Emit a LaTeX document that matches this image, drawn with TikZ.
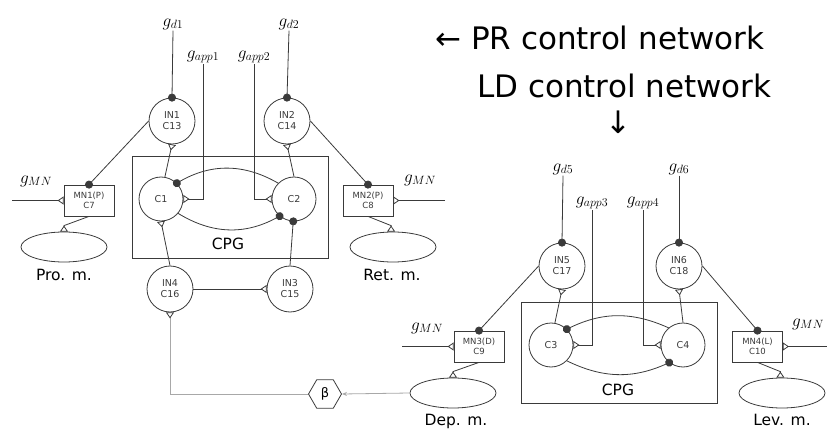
\documentclass[tikz,border=0pt]{standalone}
\usepackage{fontspec}
\setmainfont{DejaVu Sans}
\usetikzlibrary{arrows.meta,shapes.geometric}
\definecolor{lc}{HTML}{3A3A3A}
\definecolor{lg}{HTML}{A8A8A8}
\tikzset{
  neuron/.style={circle,draw=lc,line width=0.8pt,minimum size=46pt,inner sep=0pt,align=center,text=lc,font=\fontsize{9.5}{11}\selectfont},
  cell/.style={neuron,minimum size=44pt},
  mnbox/.style={rectangle,draw=lc,line width=0.8pt,minimum width=50pt,minimum height=31pt,inner sep=0pt,align=center,text=lc,font=\fontsize{8.5}{10}\selectfont},
  muscle/.style={ellipse,draw=lc,line width=0.8pt,minimum width=86pt,minimum height=30pt,inner sep=0pt},
  cpgbox/.style={draw=lc,line width=0.8pt},
  lbl/.style={font=\fontsize{15.5}{18}\selectfont,text=black,inner sep=0pt},
  glab/.style={font=\fontsize{18}{20}\selectfont,inner sep=1pt},
  conn/.style={draw=lc,line width=0.8pt},
  exc/.style={conn,-{Triangle[open,reversed,length=6pt,width=8pt]}},
  inh/.style={conn,-{Circle[length=8pt]},shorten >=-4pt},
  title/.style={font=\fontsize{31}{36}\selectfont,inner sep=0pt,text=black}
}
\begin{document}
\begin{tikzpicture}[x=1pt,y=-1pt]
\useasboundingbox (0,0) rectangle (827,430);
% titles
\node[title,anchor=base west] (t1) at (435,50) {← PR control network};
\node[title,anchor=base west] (t2) at (477,98) {LD control network};
\node[title] (t3) at (618,122) {↓};

% ---------- left network ----------
\draw[cpgbox] (132,156) rectangle (328,258);
\node[lbl,anchor=base] (cpgl1) at (228,250) {CPG};
\node[neuron] (in1) at (172,121) {IN1\\C13};
\node[neuron] (in2) at (287,121) {IN2\\C14};
\node[cell] (c1) at (161,199) {C1};
\node[cell] (c2) at (294,199) {C2};
\node[neuron] (in4) at (170,289) {IN4\\C16};
\node[neuron] (in3) at (290,289) {IN3\\C15};
\node[mnbox] (mn1) at (89,200.5) {MN1(P)\\C7};
\node[mnbox] (mn2) at (368,200.5) {MN2(P)\\C8};
\node[muscle] (pro) at (64,247) {};
\node[muscle] (ret) at (393,247) {};
\node[lbl,anchor=base] (prol) at (64,280) {Pro. m.};
\node[lbl,anchor=base] (retl) at (392,280) {Ret. m.};
\node[glab] (gd1) at (173,24) {$g_{d1}$};
\node[glab] (gd2) at (289,24) {$g_{d2}$};
\node[glab] (gapp1) at (203,57) {$g_{app1}$};
\node[glab] (gapp2) at (254,57) {$g_{app2}$};
\node[glab] (gmn1) at (36,181) {$g_{MN}$};
\node[glab] (gmn2) at (420,180) {$g_{MN}$};
\coordinate (e1) at (12,200.5);
\coordinate (e2) at (445,200.5);
\node[regular polygon,regular polygon sides=6,draw=lc,line width=0.8pt,minimum size=33pt,inner sep=0pt,font=\fontsize{13}{15}\selectfont] (beta) at (325,394) {β};

\draw[inh] (gd1.south) -- (in1.north);
\draw[inh] (gd2.south) -- (in2.north);
\draw[exc] (gapp1.south) |- (c1.east);
\draw[exc] (gapp2.south) |- (c2.west);
\draw[exc] (c1.80) -- (in1.south);
\draw[exc] (c2.north) -- (in2.south);
\draw[inh] (c2.135) to[bend right=30] (c1.45);
\draw[inh] (c1.-40) to[bend right=30] (c2.-130);
\draw[exc] (in4.north) -- (c1.south);
\draw[inh] (in3.north) -- (c2.-92);
\draw[exc] (in4.east) -- (in3.west);
\draw[inh] (in1.west) -- (mn1.north);
\draw[inh] (in2.east) -- (mn2.north);
\draw[exc] (e1) -- (mn1.west);
\draw[exc] (e2) -- (mn2.east);
\draw[exc] (mn1.south) -- ([yshift=6pt]pro.north) -- (pro.north);
\draw[exc] (mn2.south) -- ([yshift=6pt]ret.97) -- (ret.97);

% ---------- right network ----------
\draw[cpgbox] (521,302) rectangle (717,403);
\node[lbl,anchor=base] (cpgl2) at (618,395) {CPG};
\node[neuron] (in5) at (562,266) {IN5\\C17};
\node[neuron] (in6) at (679,266) {IN6\\C18};
\node[cell] (c3) at (551,345) {C3};
\node[cell] (c4) at (683,345) {C4};
\node[mnbox] (mn3) at (479,346.5) {MN3(D)\\C9};
\node[mnbox] (mn4) at (757.5,346.5) {MN4(L)\\C10};
\node[muscle] (dep) at (453,393) {};
\node[muscle] (lev) at (782,393) {};
\node[lbl,anchor=base] (depl) at (456,425) {Dep. m.};
\node[lbl,anchor=base] (levl) at (782,425) {Lev. m.};
\node[glab] (gd5) at (563,169) {$g_{d5}$};
\node[glab] (gd6) at (679,169) {$g_{d6}$};
\node[glab] (gapp3) at (592,203) {$g_{app3}$};
\node[glab] (gapp4) at (643,203) {$g_{app4}$};
\node[glab] (gmn3) at (427,328) {$g_{MN}$};
\node[glab] (gmn4) at (808,324) {$g_{MN}$};
\coordinate (e3) at (402,346.5);
\coordinate (e4) at (827,346.5);

\draw[inh] (gd5.south) -- (in5.north);
\draw[inh] (gd6.south) -- (in6.north);
\draw[exc] (gapp3.south) |- (c3.east);
\draw[exc] (gapp4.south) |- (c4.west);
\draw[exc] (c3.80) -- (in5.south);
\draw[exc] (c4.north) -- (in6.south);
\draw[inh] (c4.130) to[bend right=25] (c3.45);
\draw[inh] (c3.-45) to[bend right=25] (c4.-128);
\draw[inh] (in5.west) -- (mn3.north);
\draw[inh] (in6.east) -- (mn4.north);
\draw[exc] (e3) -- (mn3.west);
\draw[exc] (e4) -- (mn4.east);
\draw[exc] (mn3.south) -- ([yshift=6pt]dep.north) -- (dep.north);
\draw[exc] (mn4.south) -- ([yshift=6pt]lev.96) -- (lev.96);

% ---------- feedback ----------
\draw[draw=lg,line width=0.8pt,-{Stealth[length=5pt,width=4pt]}] (dep.west) -- (beta.east);
\draw[draw=lg,line width=0.8pt,-{Triangle[open,reversed,length=6pt,width=8pt,color=lc]}] (beta.west) -| (in4.south);
\end{tikzpicture}
\end{document}
